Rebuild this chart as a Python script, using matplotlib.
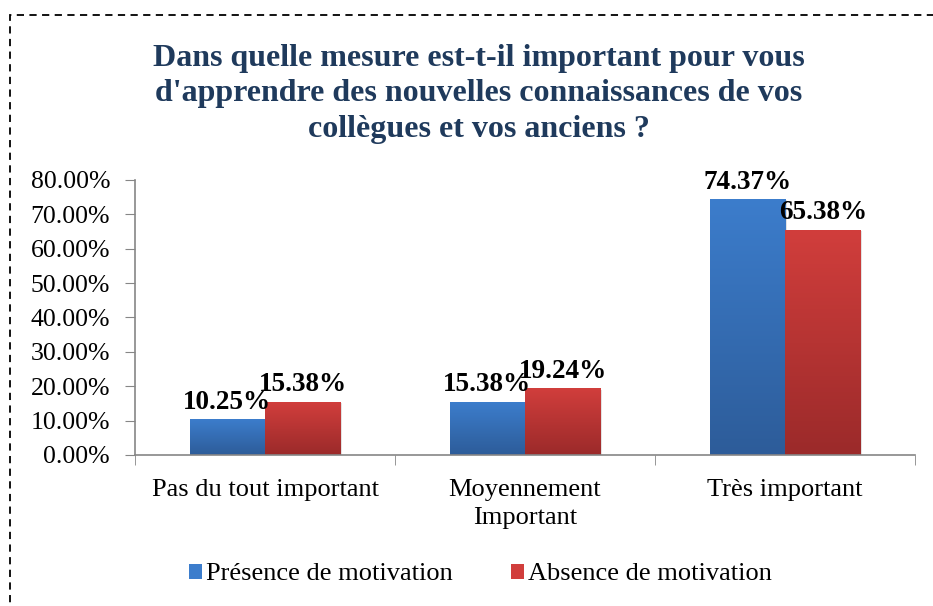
import numpy as np
import matplotlib.pyplot as plt
from matplotlib.patches import Rectangle
from matplotlib.ticker import FuncFormatter

plt.rcParams['font.family'] = ['Liberation Serif', 'DejaVu Serif']

# données
categories = ['Pas du tout important', 'Moyennement\nImportant', 'Très important']
presence = [10.25, 15.38, 74.37]
absence = [15.38, 19.24, 65.38]
series_names = ['Présence de motivation', 'Absence de motivation']

fig = plt.figure(figsize=(9.33, 6.06), dpi=100)
ax = fig.add_axes([0.1447, 0.2492, 0.836, 0.4538])

x = np.arange(len(categories))
w = 0.29

def gradient_bars(xpos, vals, c_top, c_bot, label):
    bars = ax.bar(xpos, vals, w, color=c_top, label=label, zorder=2)
    grad = np.linspace(0, 1, 256).reshape(-1, 1)
    cmap = plt.matplotlib.colors.LinearSegmentedColormap.from_list('g', [c_bot, c_top])
    for b in bars:
        x0, y0 = b.get_x(), b.get_y()
        # petite ombre
        ax.add_patch(Rectangle((x0 + 0.008, y0), b.get_width(), b.get_height() - 0.3,
                               color='#e2e2e2', zorder=1, lw=0))
        ax.imshow(grad, extent=[x0, x0 + b.get_width(), y0, y0 + b.get_height()],
                  cmap=cmap, aspect='auto', origin='lower', zorder=2.5)
    return bars

b1 = gradient_bars(x - w / 2, presence, '#3C7DCC', '#2D5C99', series_names[0])
b2 = gradient_bars(x + w / 2, absence, '#D13E3C', '#9B2A2A', series_names[1])

for bars, vals in [(b1, presence), (b2, absence)]:
    for b, v in zip(bars, vals):
        ax.text(b.get_x() + b.get_width() / 2, v + 1.4, f'{v:.2f}%',
                ha='center', va='bottom', fontsize=19.5, fontweight='bold', zorder=4)

ax.set_xlim(-0.5, 2.5)
ax.set_ylim(0, 80)
ax.set_yticks(np.arange(0, 81, 10))
ax.yaxis.set_major_formatter(FuncFormatter(lambda v, p: f'{v:.2f}%'))
ax.set_xticks(x)
ax.set_xticklabels(categories, fontsize=19, linespacing=1.35)
ax.set_xticks(np.arange(-0.5, 3, 1), minor=True)
ax.tick_params(axis='x', which='major', length=0, pad=17)
ax.tick_params(axis='x', which='minor', length=7, color='#868686')
ax.tick_params(axis='y', length=7, color='#868686', labelsize=18.5, pad=11)

for s in ['top', 'right']:
    ax.spines[s].set_visible(False)
for s in ['left', 'bottom']:
    ax.spines[s].set_color('#868686')
    ax.spines[s].set_linewidth(1.2)

fig.text(0.513, 0.928, "Dans quelle mesure est-t-il important pour vous\n"
         "d'apprendre des nouvelles connaissances de vos\n"
         "collègues et vos anciens ?",
         ha='center', va='top', fontsize=23, fontweight='bold', color='#1F3A5C',
         linespacing=1.3)

fig.legend(loc='center', bbox_to_anchor=(0.515, 0.052), ncol=2, frameon=False,
           fontsize=19, handlelength=0.5, handleheight=0.5, handletextpad=0.15,
           columnspacing=2.2)

# cadre pointillé
fig.patches.append(Rectangle((0.011, -0.2), 1.2, 1.2 - 15 / 606, transform=fig.transFigure,
                             fill=False, ls=(0, (4, 3)), lw=1.3, color='black'))

fig.savefig('out.png', dpi=100)
